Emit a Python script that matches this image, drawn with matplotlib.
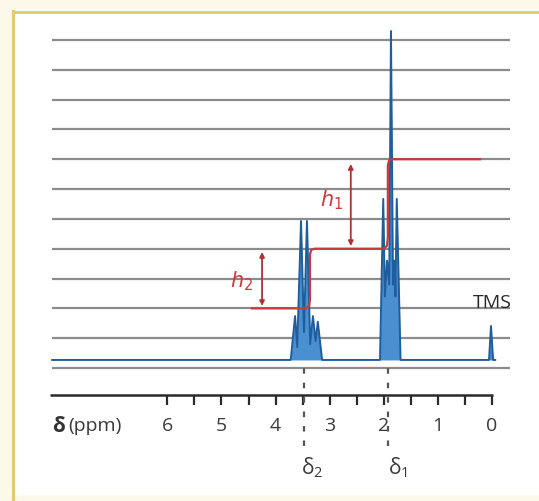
import matplotlib
matplotlib.use("Agg")
import matplotlib.pyplot as plt
from matplotlib.lines import Line2D
from matplotlib.patches import Rectangle

plt.rcParams['font.family'] = ['Open Sans', 'DejaVu Sans']

# ---------------- data (ppm on x, grid units on y) ----------------
grid_levels = [0, 1, 2, 3, 4, 5, 6, 7, 8, 9, 10, 11]
baseline = 0.27

# spectrum vertices
spec_ppm = [8.13,
            3.72, 3.64, 3.60, 3.53, 3.475, 3.42, 3.36, 3.31, 3.26, 3.22, 3.14,
            2.07, 2.01, 1.98, 1.94, 1.90, 1.867, 1.83, 1.80, 1.785, 1.76, 1.69,
            0.055, 0.018, -0.02, -0.06]
spec_int = [0.27,
            0.27, 1.74, 0.70, 4.93, 1.20, 4.93, 0.80, 1.74, 0.90, 1.55, 0.27,
            0.27, 5.67, 2.40, 3.60, 2.80, 11.30, 2.80, 3.60, 2.40, 5.67, 0.27,
            0.27, 1.41, 0.27, 0.27]

# integral trace
integ_ppm = [4.44, 3.44, 3.38, 3.365, 3.365, 3.34, 3.27, 2.00, 1.94, 1.925, 1.925, 1.90, 1.84, 0.22]
integ_val = [2.0, 2.0, 2.08, 2.3, 3.8, 3.97, 4.0, 4.0, 4.1, 4.4, 6.8, 6.97, 7.0, 7.0]

tick_ppm = [6, 5.5, 5, 4.5, 4, 3.5, 3, 2.5, 2, 1.5, 1, 0.5, 0]
label_ppm = [6, 5, 4, 3, 2, 1, 0]
tick_labels = ['6', '5', '4', '3', '2', '1', '0']

delta_ppm = [3.47, 1.92]
delta_label_ppm = [3.33, 1.73]
delta_labels = [r'$\mathregular{\delta_2}$', r'$\mathregular{\delta_1}$']

h_arrows_ppm = [4.25, 2.61]
h_arrows_lo = [2.08, 4.09]
h_arrows_hi = [3.89, 6.84]
h_labels = [r'$h_2$', r'$h_1$']
h_label_pos = [(4.62, 2.95), (2.97, 5.65)]

tms_ppm = 0.0
tms_level = 1.41

# ---------------- figure ----------------
W, H = 539, 502
fig = plt.figure(figsize=(W / 100, H / 100), dpi=100)
fig.patch.set_facecolor('#fdf9ea')

# white panel and gold frame (figure coords)
fig.add_artist(Rectangle((14 / W, 0.012), 1, 1 - 13.5 / H - 0.012, transform=fig.transFigure,
                         facecolor='white', edgecolor='none', zorder=0))
fig.add_artist(Line2D([13 / W, 13 / W], [0, 1 - 12 / H], transform=fig.transFigure,
                      color='#e6c870', lw=2.2, zorder=1))
fig.add_artist(Line2D([13 / W, 1], [1 - 12.5 / H, 1 - 12.5 / H], transform=fig.transFigure,
                      color='#e6c870', lw=2.0, zorder=1))

ax = fig.add_axes([0, 0, 1, 1])
ax.set_facecolor('none')
ax.set_xlim(9.094, -0.869)
ax.set_ylim(-4.46, 12.374)
ax.axis('off')

# grid lines
ax.hlines(grid_levels, 8.13, -0.33, color='#8c8c8c', lw=1.6, zorder=2)

# spectrum
ax.fill_between(spec_ppm, baseline, spec_int, color='#4a8fd0', lw=0, zorder=3)
ax.plot(spec_ppm, spec_int, color='#1f5e9e', lw=1.4, zorder=4)

# integral
ax.plot(integ_ppm, integ_val, color='#c83a3c', lw=1.6, zorder=5, solid_joinstyle='round')

# h arrows and labels
for xp, lo, hi in zip(h_arrows_ppm, h_arrows_lo, h_arrows_hi):
    ax.annotate('', xy=(xp, lo), xytext=(xp, hi),
                arrowprops=dict(arrowstyle='<|-|>', color='#b03034', lw=1.3,
                                mutation_scale=7, shrinkA=0, shrinkB=0), zorder=5)
for lab, (xp, yp) in zip(h_labels, h_label_pos):
    ax.text(xp, yp, lab, color='#d0393b', fontsize=15, ha='center', va='center', zorder=6)

# TMS label
ax.text(tms_ppm + 0.35, tms_level + 0.82, 'TMS', fontsize=14, color='#2a2a2a',
        ha='left', va='center', zorder=6)

# axis line and ticks
axis_y = -0.905
ax.hlines(axis_y, 8.17, -0.02, color='#2a2a2a', lw=1.8, zorder=4)
ax.vlines(tick_ppm, axis_y - 0.34, axis_y, color='#2a2a2a', lw=1.6, zorder=4)
for p, t in zip(label_ppm, tick_labels):
    ax.text(p, -1.92, t, fontsize=14, color='#3a3a3a', ha='center', va='center', zorder=6)
ax.text(8.13, -1.92, 'δ', fontsize=15, fontweight='bold', color='#333333',
        ha='left', va='center', zorder=6)
ax.text(7.83, -1.92, '(ppm)', fontsize=14, color='#3a3a3a', ha='left', va='center', zorder=6)

# dotted guide lines and delta labels
for p, lp, lab in zip(delta_ppm, delta_label_ppm, delta_labels):
    ax.vlines(p, -2.6, 0.05, color='#555555', lw=1.6, linestyles=(0, (2.5, 4)), zorder=6)
    ax.text(lp, -3.3, lab, fontsize=15, color='#3a3a3a', ha='center', va='center', zorder=6)

fig.savefig('out.png', dpi=100, facecolor=fig.get_facecolor())
